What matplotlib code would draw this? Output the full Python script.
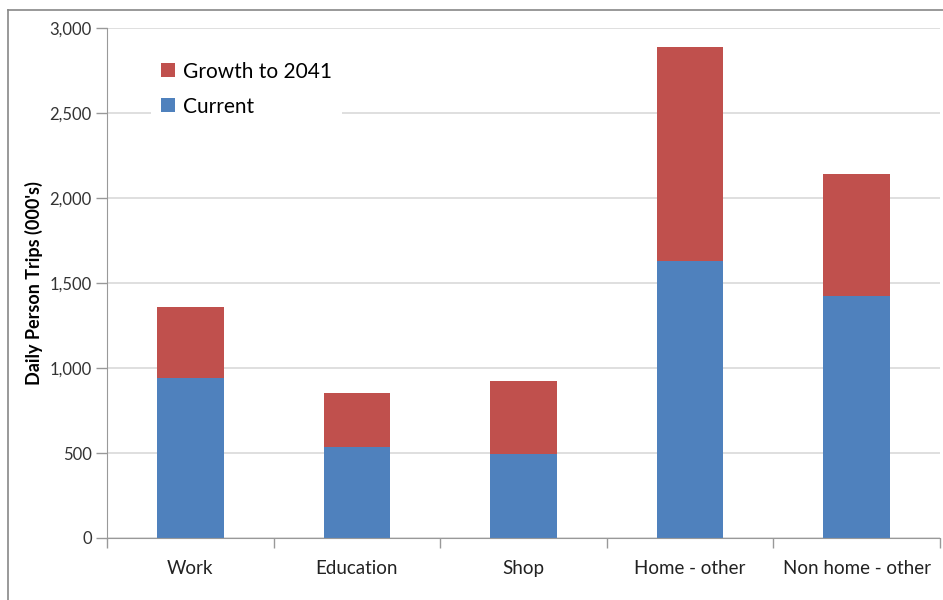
import matplotlib.pyplot as plt
from matplotlib.lines import Line2D

plt.rcParams["font.family"] = ["Lato", "DejaVu Sans"]

categories = ["Work", "Education", "Shop", "Home - other", "Non home - other"]
current = [940, 535, 495, 1630, 1425]
growth = [420, 320, 430, 1260, 715]

BLUE = "#4F81BD"
RED = "#C0504D"

fig = plt.figure(figsize=(9.43, 6.0), dpi=100)
ax = fig.add_axes([107 / 943, 1 - 538 / 600, 833 / 943, 510 / 600])

x = list(range(len(categories)))
ax.bar(x, current, width=0.4, color=BLUE, label="Current", zorder=2)
ax.bar(x, growth, width=0.4, bottom=current, color=RED, label="Growth to 2041", zorder=2)

ax.set_xlim(-0.5, len(categories) - 0.5)
ax.set_ylim(0, 3000)
ax.set_yticks(range(0, 3001, 500))
ax.set_yticklabels([f"{v:,}" for v in range(0, 3001, 500)])
ax.set_xticks(x)
ax.set_xticklabels(categories)
ax.set_xticks([i - 0.5 for i in range(len(categories) + 1)], minor=True)
ax.tick_params(axis="x", which="major", length=0, pad=16, labelsize=13.5, colors="#222222")
ax.tick_params(axis="x", which="minor", length=7, color="#999999", width=1)
ax.tick_params(axis="y", length=8, color="#999999", width=1, labelsize=12, pad=3,
               labelcolor="#333333")

ax.grid(axis="y", color="#d9d9d9", linewidth=1.2, zorder=0)
for side in ["top", "right"]:
    ax.spines[side].set_visible(False)
ax.spines["left"].set_color("#999999")
ax.spines["bottom"].set_color("#999999")
ax.set_ylabel("Daily Person Trips (000's)", fontsize=13, fontweight="bold", labelpad=5)

handles, labels = ax.get_legend_handles_labels()
leg = ax.legend(handles[::-1], labels[::-1], loc="upper left",
                bbox_to_anchor=(0.04, 0.975), fontsize=15, frameon=True,
                fancybox=False, edgecolor="none", facecolor="white", framealpha=1,
                handlelength=0.65, handleheight=0.65, handletextpad=0.4,
                labelspacing=0.72, borderpad=0.5)
leg.set_zorder(5)

# outer chart frame (clipped on right and bottom like the original)
fig.add_artist(Line2D([8 / 943, 1], [1 - 10 / 600] * 2, color="#888888", lw=1.2))
fig.add_artist(Line2D([8 / 943] * 2, [0, 1 - 10 / 600], color="#888888", lw=1.2))

fig.savefig("out.png", dpi=100)
